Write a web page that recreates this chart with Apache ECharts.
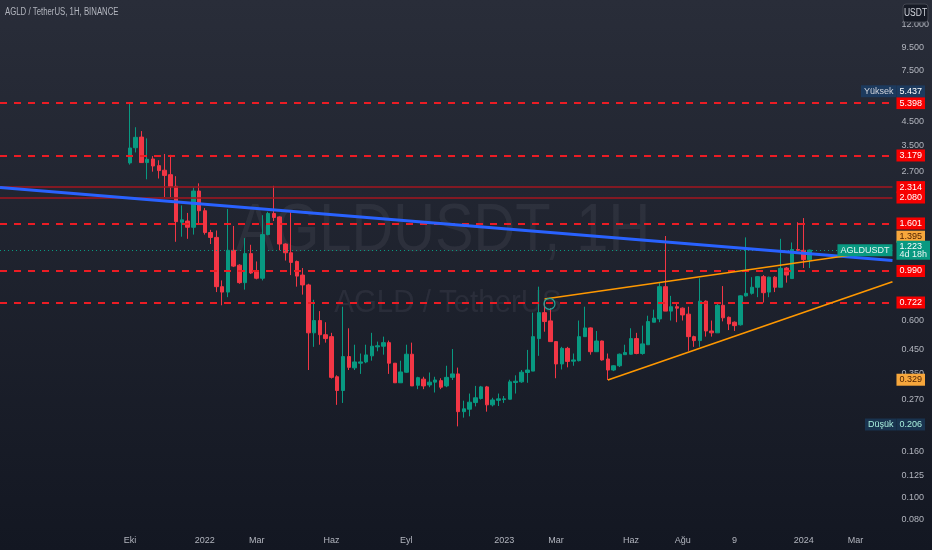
<!DOCTYPE html>
<html><head><meta charset="utf-8">
<script src="https://cdn.jsdelivr.net/npm/echarts@6/dist/echarts.min.js"></script>
<style>html,body{margin:0;padding:0;background:#131722}#c{width:932px;height:550px}</style>
</head><body><div id="c"></div>
<script>
const FONT = "'Liberation Sans Narrow', 'Liberation Sans', Roboto, sans-serif";

const dates = ['2021-10-04','2021-10-11','2021-10-18','2021-10-25','2021-11-01','2021-11-08','2021-11-15','2021-11-22','2021-11-29','2021-12-06','2021-12-13','2021-12-20','2021-12-27',
'2022-01-03','2022-01-10','2022-01-17','2022-01-24','2022-01-31','2022-02-07','2022-02-14','2022-02-21','2022-02-28','2022-03-07','2022-03-14','2022-03-21','2022-03-28','2022-04-04','2022-04-11','2022-04-18','2022-04-25','2022-05-02','2022-05-09','2022-05-16','2022-05-23','2022-05-30','2022-06-06','2022-06-13','2022-06-20','2022-06-27','2022-07-04','2022-07-11','2022-07-18','2022-07-25','2022-08-01','2022-08-08','2022-08-15','2022-08-22','2022-08-29','2022-09-05','2022-09-12','2022-09-19','2022-09-26','2022-10-03','2022-10-10','2022-10-17','2022-10-24','2022-10-31','2022-11-07','2022-11-14','2022-11-21','2022-11-28','2022-12-05','2022-12-12','2022-12-19','2022-12-26',
'2023-01-02','2023-01-09','2023-01-16','2023-01-23','2023-01-30','2023-02-06','2023-02-13','2023-02-20','2023-02-27','2023-03-06','2023-03-13','2023-03-20','2023-03-27','2023-04-03','2023-04-10','2023-04-17','2023-04-24','2023-05-01','2023-05-08','2023-05-15','2023-05-22','2023-05-29','2023-06-05','2023-06-12','2023-06-19','2023-06-26','2023-07-03','2023-07-10','2023-07-17','2023-07-24','2023-07-31','2023-08-07','2023-08-14','2023-08-21','2023-08-28','2023-09-04','2023-09-11','2023-09-18','2023-09-25','2023-10-02','2023-10-09','2023-10-16','2023-10-23','2023-10-30','2023-11-06','2023-11-13','2023-11-20','2023-11-27','2023-12-04','2023-12-11','2023-12-18','2023-12-25','2024-01-01','2024-01-08'];

const opens = [2.95,3.44,3.83,2.96,3.07,2.87,2.74,2.62,2.33,1.62,
1.64,1.54,2.22,1.82,1.46,1.39,0.845,0.80,1.22,1.05,
0.88,1.18,0.98,0.92,1.43,1.77,1.71,1.30,1.19,1.09,
0.95,0.86,0.53,0.60,0.52,0.51,0.34,0.296,0.417,0.372,
0.39,0.395,0.42,0.46,0.463,0.48,0.39,0.32,0.356,0.427,
0.312,0.332,0.313,0.322,0.327,0.31,0.338,0.35,0.239,0.245,
0.262,0.273,0.307,0.256,0.268,0.27,0.271,0.321,0.323,0.355,
0.36,0.50,0.65,0.598,0.485,0.387,0.453,0.398,0.40,0.51,
0.557,0.438,0.488,0.407,0.364,0.38,0.425,0.427,0.50,0.43,
0.47,0.59,0.61,0.845,0.66,0.69,0.68,0.64,0.51,0.49,
0.73,0.54,0.53,0.70,0.62,0.59,0.575,0.77,0.79,0.84,
0.935,0.80,0.93,0.84,1.02,0.917,1.23,1.22,1.11];

const highs = [5.437,4.23,4.07,3.78,3.16,3.03,3.23,3.20,2.58,1.92,
1.78,2.30,2.40,1.87,1.50,1.49,0.90,1.85,1.56,1.06,
1.38,1.29,1.09,1.74,1.80,2.34,1.72,1.31,1.83,1.10,
1.02,0.87,0.74,0.66,0.59,0.53,0.345,0.69,0.555,0.47,
0.43,0.47,0.53,0.485,0.51,0.49,0.39,0.40,0.47,0.48,
0.34,0.34,0.355,0.34,0.335,0.38,0.45,0.373,0.267,0.287,
0.31,0.31,0.31,0.275,0.287,0.28,0.33,0.345,0.364,0.446,
0.65,0.845,0.735,0.68,0.487,0.46,0.46,0.43,0.60,0.69,
0.56,0.54,0.49,0.43,0.382,0.43,0.47,0.555,0.53,0.57,
0.63,0.67,0.88,1.41,0.77,0.71,0.685,0.69,0.515,0.92,
0.735,0.60,0.715,0.85,0.625,0.595,0.775,1.39,0.93,0.94,
0.95,0.935,0.94,1.37,1.03,1.32,1.62,1.69,1.23];

const lows = [2.90,3.28,2.95,2.50,2.70,2.52,2.09,2.09,1.33,1.40,
1.37,1.43,1.60,1.43,1.30,0.80,0.70,0.76,1.03,0.87,
0.82,0.96,0.91,0.90,1.42,1.64,1.22,1.10,0.95,0.845,
0.78,0.364,0.46,0.47,0.48,0.334,0.256,0.261,0.364,0.364,
0.35,0.39,0.40,0.44,0.425,0.35,0.32,0.32,0.354,0.31,
0.30,0.30,0.306,0.29,0.30,0.306,0.329,0.206,0.225,0.228,
0.252,0.27,0.239,0.252,0.253,0.261,0.27,0.287,0.32,0.32,
0.36,0.42,0.536,0.485,0.335,0.366,0.374,0.38,0.397,0.51,
0.425,0.438,0.40,0.329,0.36,0.375,0.425,0.425,0.427,0.425,
0.47,0.59,0.59,0.66,0.60,0.59,0.60,0.442,0.46,0.46,
0.51,0.51,0.53,0.595,0.545,0.54,0.57,0.765,0.78,0.76,
0.72,0.76,0.80,0.84,0.88,0.917,1.21,1.02,1.02];

const closes = [3.43,3.82,2.96,3.06,2.86,2.73,2.60,2.32,1.63,1.66,
1.54,2.22,1.82,1.46,1.39,0.845,0.80,1.22,1.04,0.88,
1.18,0.97,0.92,1.43,1.77,1.70,1.30,1.19,1.08,0.94,
0.86,0.53,0.60,0.52,0.50,0.338,0.296,0.417,0.374,0.395,
0.395,0.424,0.463,0.465,0.48,0.39,0.32,0.357,0.427,0.31,
0.337,0.31,0.322,0.329,0.306,0.338,0.35,0.239,0.246,0.263,
0.275,0.307,0.256,0.269,0.272,0.272,0.323,0.325,0.356,0.364,
0.51,0.65,0.594,0.485,0.387,0.453,0.397,0.403,0.51,0.557,
0.438,0.488,0.403,0.364,0.38,0.427,0.434,0.50,0.43,0.474,
0.594,0.615,0.845,0.66,0.69,0.68,0.635,0.51,0.49,0.73,
0.54,0.53,0.70,0.617,0.58,0.57,0.77,0.79,0.84,0.935,
0.795,0.93,0.84,1.017,0.95,1.23,1.22,1.11,1.223];

const yTickValues = [12, 9.5, 7.5, 4.5, 3.5, 2.7, 0.6, 0.45, 0.35, 0.27, 0.16, 0.125, 0.1, 0.08];
const xTickDates = ['2021-10-04','2022-01-03','2022-03-07','2022-06-06','2022-09-05','2023-01-02','2023-03-06','2023-06-05','2023-08-07','2023-10-09','2024-01-01','2024-03-04'];
const xTickLabels = ['Eki','2022','Mar','Haz','Eyl','2023','Mar','Haz','Ağu','9','2024','Mar'];
const xRange = ['2021-04-29','2024-04-18'];
const yRange = [0.0723, 15.3];

const dashedLevels = [5.398, 3.179, 1.601, 0.990, 0.722];
const solidLevels = [2.314, 2.080];
const orangeLevels = [1.395, 0.329];
const lastPrice = 1.223;
const countdown = '4d 18h';
const highValue = 5.437;
const lowValue = 0.206;
const blueTrend = [['2021-04-29', 2.30], ['2024-04-18', 1.10]];
const upperWedge = [['2023-02-20', 0.746], ['2024-02-26', 1.16]];
const lowerWedge = [['2023-05-08', 0.329], ['2024-04-18', 0.888]];
const circleMark = ['2023-02-26', 0.71];

const t = s => { const p = s.split('-').map(Number); return Date.UTC(p[0], p[1] - 1, p[2]); };
const candleData = dates.map((d, i) => [t(d), opens[i], closes[i], lows[i], highs[i]]);
const xLabelMap = {};
xTickDates.forEach((d, i) => { xLabelMap[t(d)] = xTickLabels[i]; });

const FS = 9;
const fmt = v => Number(v).toFixed(3);
const boxLabel = (text, bg, color, extra) => Object.assign({
  show: true, position: 'end', distance: 4, formatter: text,
  backgroundColor: bg, color: color, padding: [2, 3, 1, 3],
  fontSize: FS, fontFamily: FONT, lineHeight: 9
}, extra || {});

const mlData = [];
dashedLevels.forEach(v => mlData.push({
  yAxis: v, lineStyle: { color: '#ec1c24', width: 2, type: [7, 7] },
  label: boxLabel(fmt(v), '#f70000', '#ffffff')
}));
solidLevels.forEach(v => mlData.push({
  yAxis: v, lineStyle: { color: '#a3161f', width: 1.5, type: 'solid' },
  label: boxLabel(fmt(v), '#f70000', '#ffffff')
}));
orangeLevels.forEach(v => mlData.push({
  yAxis: v, lineStyle: { color: 'transparent', width: 0 },
  label: boxLabel(fmt(v), '#f7a73c', '#4a1e00')
}));
mlData.push({
  yAxis: lastPrice, lineStyle: { color: '#089981', width: 1, type: [1, 3] },
  label: boxLabel('{a|' + fmt(lastPrice) + '}\n{b|' + countdown + '}', '#089981', '#ffffff',
    { rich: { a: { fontSize: FS, lineHeight: 8, fontFamily: FONT, color: '#fff' }, b: { fontSize: FS, lineHeight: 8, fontFamily: FONT, color: '#e8f5f2' } }, padding: [2, 3, 1, 3] })
});
mlData.push({
  yAxis: lastPrice, lineStyle: { color: 'transparent', width: 0 },
  label: boxLabel('AGLDUSDT', '#089981', '#e6f4f1', { position: 'insideEnd', distance: 0 })
});
mlData.push({
  yAxis: highValue, lineStyle: { color: 'transparent', width: 0 },
  label: { show: true, position: 'end', distance: 4, formatter: '{v|' + fmt(highValue) + '}\n{g| }',
    rich: { v: { backgroundColor: '#1c3a5e', color: '#ffffff', padding: [2, 3, 1, 3], fontSize: FS, fontFamily: FONT, lineHeight: 9 }, g: { fontSize: 2, lineHeight: 22 } } }
});
mlData.push({
  yAxis: highValue, lineStyle: { color: 'transparent', width: 0 },
  label: { show: true, position: 'insideEnd', distance: -4, formatter: '{v|Yüksek}\n{g| }',
    rich: { v: { backgroundColor: '#1c3a5e', color: '#d1d4dc', padding: [2, 3, 1, 3], fontSize: FS, fontFamily: FONT, lineHeight: 9 }, g: { fontSize: 2, lineHeight: 22 } } }
});
mlData.push({
  yAxis: lowValue, lineStyle: { color: 'transparent', width: 0 },
  label: boxLabel(fmt(lowValue), '#19334f', '#a8eedd')
});
mlData.push({
  yAxis: lowValue, lineStyle: { color: 'transparent', width: 0 },
  label: boxLabel('Düşük', '#19334f', '#a8eedd', { position: 'insideEnd', distance: -4 })
});
const seg = (pts, color, width) => [
  { coord: [t(pts[0][0]), pts[0][1]], lineStyle: { color: color, width: width, type: 'solid' }, label: { show: false } },
  { coord: [t(pts[1][0]), pts[1][1]] }
];
mlData.push(seg(blueTrend, '#2962ff', 3));
mlData.push(seg(upperWedge, '#ff9800', 1.6));
mlData.push(seg(lowerWedge, '#ff9800', 1.6));

const chart = echarts.init(document.getElementById('c'), null, { renderer: 'canvas' });
chart.setOption({
  animation: false,
  backgroundColor: { type: 'linear', x: 0, y: 0, x2: 0, y2: 1,
    colorStops: [{ offset: 0, color: '#292d39' }, { offset: 1, color: '#131722' }] },
  textStyle: { fontFamily: FONT },
  grid: { left: 0, right: 39, top: 0, bottom: 20, containLabel: false },
  graphic: [
    { type: 'text', x: 443, y: 232, z: -10, silent: true, scaleX: 0.85,
      style: { text: 'AGLDUSDT, 1H', fill: 'rgba(130,134,146,0.13)', font: '68px ' + FONT, align: 'center', verticalAlign: 'middle', textAlign: 'center', textVerticalAlign: 'middle' } },
    { type: 'text', x: 448, y: 303, z: -10, silent: true, scaleX: 0.92,
      style: { text: 'AGLD / TetherUS', fill: 'rgba(130,134,146,0.13)', font: '32px ' + FONT, align: 'center', verticalAlign: 'middle', textAlign: 'center', textVerticalAlign: 'middle' } },
    { type: 'text', x: 5, y: 12, z: 100, silent: true, scaleX: 0.78,
      style: { text: 'AGLD / TetherUS, 1H, BINANCE', fill: '#b2b5be', font: '10px ' + FONT, align: 'left', verticalAlign: 'middle', textAlign: 'left', textVerticalAlign: 'middle' } },
    { type: 'rect', z: 100, silent: true, shape: { x: 903, y: 4, width: 25, height: 18, r: 3 },
      style: { fill: '#161a25', stroke: '#434651', lineWidth: 1 } },
    { type: 'text', x: 915.5, y: 13, z: 101, silent: true, scaleX: 0.85,
      style: { text: 'USDT', fill: '#d1d4dc', font: '10px ' + FONT, align: 'center', verticalAlign: 'middle', textAlign: 'center', textVerticalAlign: 'middle' } }
  ],
  xAxis: {
    type: 'value', min: t(xRange[0]), max: t(xRange[1]), scale: true,
    axisLine: { show: false }, axisTick: { show: false }, splitLine: { show: false },
    axisLabel: { customValues: xTickDates.map(t), formatter: v => xLabelMap[v] || '',
      color: '#b2b5be', fontSize: FS, fontFamily: FONT, margin: 6, hideOverlap: false }
  },
  yAxis: {
    type: 'log', position: 'right', min: yRange[0], max: yRange[1],
    axisLine: { show: false }, axisTick: { show: false }, splitLine: { show: false },
    axisLabel: { customValues: yTickValues, formatter: v => fmt(v),
      color: '#b2b5be', fontSize: FS, fontFamily: FONT, margin: 9, hideOverlap: false }
  },
  series: [{
    type: 'candlestick',
    data: candleData,
    encode: { x: 0, y: [1, 2, 3, 4] },
    barWidth: 4,
    itemStyle: { color: '#089981', color0: '#f23645', borderColor: '#089981', borderColor0: '#f23645', borderWidth: 1 },
    markLine: { silent: true, symbol: ['none', 'none'], animation: false, data: mlData },
    markPoint: { silent: true, animation: false, data: [{
      coord: [t(circleMark[0]), circleMark[1]], symbol: 'circle', symbolSize: 11,
      itemStyle: { color: 'rgba(0,0,0,0)', borderColor: '#26a69a', borderWidth: 1.2 }, label: { show: false } }] }
  }]
});
</script></body></html>
